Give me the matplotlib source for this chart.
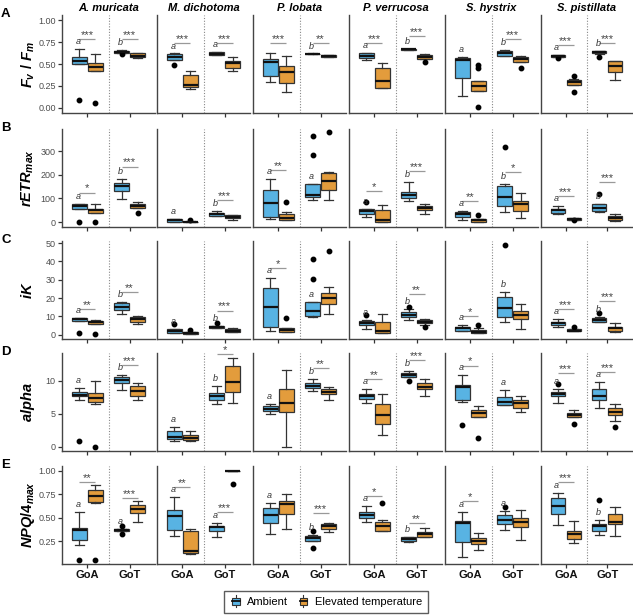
import matplotlib
matplotlib.use('Agg')
import matplotlib.pyplot as plt
from matplotlib.patches import Rectangle, Patch
from matplotlib.lines import Line2D
from matplotlib.legend_handler import HandlerBase

plt.rcParams['font.family'] = ['Liberation Sans', 'DejaVu Sans']
plt.rcParams['mathtext.fontset'] = 'custom'
plt.rcParams['mathtext.it'] = 'Liberation Sans:italic:bold'
plt.rcParams['mathtext.rm'] = 'Liberation Sans:bold'
plt.rcParams['mathtext.bf'] = 'Liberation Sans:bold'

species = ['A. muricata', 'M. dichotoma', 'P. lobata', 'P. verrucosa', 'S. hystrix', 'S. pistillata']
sites = ['GoA', 'GoT']
treatments = ['Ambient', 'Elevated temperature']
colors = ['#58B3E3', '#E39C3C']
row_tags = ['A', 'B', 'C', 'D', 'E']
ylabels = [r'$F_v\ /\ F_m$', r'$rETR_{max}$', r'$iK$', r'$alpha$', r'$NPQ/4_{max}$']

# box stats: (lower whisker, Q1, median, Q3, upper whisker, outliers)
# per species: [GoA (ambient, elevated), GoT (ambient, elevated)]
fvfm = [
    [((0.50, 0.50, 0.535, 0.577, 0.668, [0.094]), (0.426, 0.426, 0.465, 0.513, 0.619, [0.057])),
     ((0.625, 0.63, 0.64, 0.65, 0.66, [0.615]), (0.57, 0.575, 0.595, 0.62, 0.63, []))],
    [((0.547, 0.55, 0.585, 0.615, 0.62, [0.483]), (0.215, 0.238, 0.264, 0.377, 0.426, [])),
     ((0.60, 0.604, 0.619, 0.634, 0.64, []), (0.42, 0.46, 0.51, 0.536, 0.574, []))],
    [((0.30, 0.362, 0.52, 0.555, 0.623, []), (0.177, 0.283, 0.408, 0.472, 0.596, [])),
     ((0.61, 0.612, 0.615, 0.618, 0.62, []), (0.58, 0.585, 0.592, 0.598, 0.602, []))],
    [((0.55, 0.566, 0.596, 0.623, 0.63, []), (0.223, 0.223, 0.302, 0.449, 0.51, [])),
     ((0.66, 0.663, 0.668, 0.672, 0.675, []), (0.555, 0.562, 0.577, 0.604, 0.61, [0.52]))],
    [((0.132, 0.34, 0.54, 0.566, 0.577, []), (0.189, 0.189, 0.253, 0.31, 0.31, [0.483, 0.453, 0.008])),
     ((0.59, 0.596, 0.623, 0.649, 0.66, []), (0.52, 0.528, 0.555, 0.577, 0.59, [0.46]))],
    [((0.577, 0.58, 0.59, 0.60, 0.604, [0.566]), (0.26, 0.264, 0.29, 0.32, 0.33, [0.366, 0.185])),
     ((0.615, 0.62, 0.634, 0.645, 0.649, [0.585]), (0.32, 0.404, 0.472, 0.536, 0.536, []))],
]
retr = [
    [((54, 54, 67, 75, 78, [0]), (38, 38, 50, 57, 78, [0])),
     ((97, 132, 151, 164, 182, []), (58, 58, 67, 75, 85, [40]))],
    [((1, 1, 7, 11, 14, []), (0, 0.5, 1, 2, 3, [8])),
     ((26, 26, 33, 40, 47, []), (7, 16, 23, 28, 30, []))],
    [((11, 23, 82, 135, 182, []), (7, 8, 18, 33, 44, [85])),
     ((94, 104, 115, 161, 161, [364, 283]), (94, 135, 172, 206, 210, [381]))],
    [((23, 33, 47, 54, 57, [85]), (1, 1, 7, 51, 73, [])),
     ((87, 101, 114, 129, 168, []), (33, 51, 61, 68, 75, []))],
    [((7, 23, 33, 43, 47, []), (1, 1, 7, 14, 14, [30])),
     ((44, 68, 107, 151, 161, [317]), (16, 47, 75, 87, 122, []))],
    [((33, 37, 50, 57, 68, []), (7, 8, 11, 15, 16, [7])),
     ((44, 47, 61, 75, 75, [118]), (4, 8, 18, 26, 36, []))],
]
ik = [
    [((7.6, 7.6, 8.5, 9.0, 9.0, [0.9]), (5.8, 5.8, 6.7, 7.6, 8.1, [0.5])),
     ((11.2, 13.5, 15.3, 17.5, 18.0, []), (6.0, 7.2, 8.5, 9.6, 10.3, []))],
    [((0.9, 0.9, 1.8, 3.1, 3.1, [5.8]), (0.5, 0.5, 0.9, 1.3, 1.3, [2.7])),
     ((3.6, 3.6, 4.2, 4.9, 4.9, [6.3]), (1.3, 1.4, 2.3, 3.1, 3.6, []))],
    [((2.3, 4.2, 15.0, 25.6, 31.0, []), (1.4, 1.4, 2.7, 3.6, 3.6, [9.4])),
     ((9.9, 10.3, 13.0, 17.7, 17.7, [41.2, 30.5]), (11.4, 16.6, 19.9, 22.9, 26.2, [45.7]))],
    [((3.1, 5.1, 6.3, 7.6, 8.1, [10.6]), (0.9, 0.9, 2.3, 6.7, 11.4, [])),
     ((8.1, 9.6, 10.8, 12.3, 14.0, [15.3]), (5.4, 6.3, 7.0, 8.1, 8.5, [4.2]))],
    [((1.8, 2.3, 3.6, 4.2, 5.1, []), (0.9, 0.9, 1.6, 2.7, 3.8, [5.4])),
     ((7.0, 9.6, 14.4, 20.8, 23.1, [48.9]), (3.1, 8.5, 10.8, 13.2, 16.8, []))],
    [((4.2, 5.1, 6.3, 7.2, 8.7, []), (1.8, 1.8, 2.3, 3.1, 3.1, [4.0])),
     ((6.7, 6.7, 8.1, 9.0, 9.9, [12.1]), (1.4, 2.3, 3.6, 4.5, 6.3, []))],
]
alpha = [
    [((7.1, 7.6, 7.8, 8.3, 8.9, [0.9]), (6.4, 6.8, 7.4, 8.2, 10.0, [0.0])),
     ((8.6, 9.6, 10.1, 10.5, 10.9, []), (7.1, 7.6, 8.5, 9.2, 9.6, []))],
    [((0.8, 1.2, 1.5, 2.4, 2.9, []), (0.8, 1.0, 1.3, 1.8, 2.4, [])),
     ((6.5, 7.0, 7.6, 8.1, 9.2, []), (6.6, 8.3, 9.8, 12.3, 13.5, []))],
    [((4.9, 5.4, 5.7, 6.1, 6.4, []), (0.0, 5.2, 6.6, 8.8, 11.6, [])),
     ((8.4, 8.9, 9.2, 9.6, 10.2, []), (7.1, 7.9, 8.3, 8.8, 9.1, []))],
    [((6.6, 7.2, 7.6, 7.9, 8.7, []), (1.8, 3.4, 4.8, 6.5, 7.9, [])),
     ((10.6, 10.6, 10.9, 11.2, 11.5, [10.0]), (7.7, 8.7, 9.0, 9.7, 10.3, []))],
    [((6.7, 7.1, 9.0, 9.3, 10.8, [3.3]), (4.5, 4.5, 5.1, 5.6, 6.2, [1.3])),
     ((6.3, 6.3, 6.8, 7.5, 8.6, []), (5.2, 5.8, 6.6, 7.1, 7.6, []))],
    [((6.6, 7.6, 8.0, 8.3, 8.7, [9.5]), (4.5, 4.5, 4.8, 5.1, 5.6, [3.4])),
     ((5.9, 7.1, 7.6, 8.8, 9.8, []), (3.9, 4.8, 5.3, 5.8, 6.5, [2.9]))],
]
npq = [
    [((0.214, 0.268, 0.375, 0.393, 0.56, [0.05]), (0.657, 0.668, 0.732, 0.793, 0.846, [0.05])),
     ((0.357, 0.357, 0.368, 0.382, 0.382, [0.41, 0.33]), (0.46, 0.554, 0.596, 0.632, 0.679, []))],
    [((0.303, 0.371, 0.518, 0.579, 0.721, []), (0.121, 0.132, 0.15, 0.357, 0.382, [])),
     ((0.293, 0.364, 0.40, 0.418, 0.443, []), (1.0, 1.0, 1.0, 1.0, 1.0, [0.864]))],
    [((0.329, 0.446, 0.525, 0.607, 0.657, []), (0.382, 0.543, 0.643, 0.679, 0.75, [])),
     ((0.25, 0.25, 0.286, 0.304, 0.321, [0.357, 0.175]), (0.346, 0.382, 0.41, 0.436, 0.446, []))],
    [((0.46, 0.496, 0.532, 0.561, 0.621, []), (0.364, 0.364, 0.411, 0.454, 0.482, [0.657])),
     ((0.239, 0.257, 0.275, 0.293, 0.30, []), (0.293, 0.30, 0.329, 0.346, 0.393, []))],
    [((0.079, 0.246, 0.443, 0.464, 0.561, []), (0.157, 0.221, 0.257, 0.286, 0.339, [])),
     ((0.375, 0.436, 0.482, 0.525, 0.57, [0.61]), (0.268, 0.407, 0.454, 0.50, 0.586, []))],
    [((0.429, 0.543, 0.625, 0.714, 0.764, []), (0.232, 0.275, 0.329, 0.364, 0.471, [])),
     ((0.321, 0.364, 0.411, 0.436, 0.482, [0.693]), (0.311, 0.436, 0.454, 0.543, 0.614, []))],
]

# site letters above the ambient box, per species: (GoA, GoT)
fvfm_letters = [('a', 'b'), ('a', 'a'), ('', 'b'), ('a', 'b'), ('a', 'b'), ('a', 'b')]
retr_letters = [('a', 'b'), ('a', 'b'), ('a', 'a'), ('a', 'b'), ('a', 'b'), ('a', 'b')]
ik_letters = [('a', 'b'), ('a', 'b'), ('a', 'a'), ('a', 'b'), ('a', 'b'), ('a', 'b')]
alpha_letters = [('a', 'b'), ('a', 'b'), ('a', 'b'), ('a', 'b'), ('a', 'a'), ('a', 'a')]
npq_letters = [('a', 'a'), ('a', 'a'), ('a', 'b'), ('a', 'b'), ('a', 'a'), ('a', 'b')]

# treatment significance (stars, bracket height), per species: (GoA, GoT)
fvfm_sig = [(('***', 0.78), ('***', 0.78)), (('***', 0.736), ('***', 0.736)), (('***', 0.736), ('**', 0.743)),
            (('***', 0.743), ('***', 0.82)), (('', 0), ('***', 0.78)), (('***', 0.717), ('***', 0.743))]
retr_sig = [(('*', 125), ('***', 235)), (('', 0), ('***', 92)), (('**', 222), ('', 0)),
            (('*', 132), ('***', 215)), (('**', 87), ('*', 210)), (('***', 111), ('***', 168))]
ik_sig = [(('**', 14), ('**', 23.1)), (('', 0), ('***', 13.2)), (('*', 36.6), ('', 0)),
          (('', 0), ('**', 22.2)), (('*', 10.3), ('', 0)), (('***', 14.1), ('***', 18.4))]
alpha_sig = [(('', 0), ('***', 12.4)), (('', 0), ('*', 14.0)), (('', 0), ('**', 11.9)),
             (('**', 10.2), ('***', 13.2)), (('*', 12.3), ('', 0)), (('***', 11.2), ('***', 11.3))]
npq_sig = [(('**', 0.882), ('***', 0.714)), (('**', 0.829), ('***', 0.56)), (('', 0), ('***', 0.554)),
           (('*', 0.729), ('**', 0.446)), (('*', 0.675), ('', 0)), (('***', 0.875), ('', 0))]

ylims = [(-0.057, 1.057), (-21, 394), (-2.3, 51.1), (-0.68, 14.2), (0.01, 1.05)]
yticks = [[0, 0.25, 0.5, 0.75, 1.0], [0, 100, 200, 300], [0, 10, 20, 30, 40, 50], [0, 5, 10],
          [0.25, 0.5, 0.75, 1.0]]
ytick_labels = [['0.00', '0.25', '0.50', '0.75', '1.00'], ['0', '100', '200', '300'],
                ['0', '10', '20', '30', '40', '50'], ['0', '5', '10'], ['0.25', '0.50', '0.75', '1.00']]

rows = [(fvfm, fvfm_letters, fvfm_sig), (retr, retr_letters, retr_sig), (ik, ik_letters, ik_sig),
        (alpha, alpha_letters, alpha_sig), (npq, npq_letters, npq_sig)]


class BoxHandler(HandlerBase):
    # draws a small boxplot glyph as legend key
    def create_artists(self, legend, orig_handle, xdescent, ydescent, width, height, fontsize, trans):
        cx = width / 2 - xdescent
        y0 = -ydescent
        bw = width * 0.62
        whisk = Line2D([cx, cx], [y0 - height * 0.15, y0 + height * 1.15], color='#333333', lw=0.8, transform=trans)
        box = Rectangle((cx - bw / 2, y0 + height * 0.1), bw, height * 0.8, facecolor=orig_handle.get_facecolor(),
                        edgecolor='#333333', lw=0.8, transform=trans)
        med = Line2D([cx - bw / 2, cx + bw / 2], [y0 + height * 0.5] * 2, color='#111111', lw=1.3, transform=trans)
        return [whisk, box, med]


W, H = 633, 615
fig = plt.figure(figsize=(W / 100, H / 100), dpi=100)

lefts = [62, 157, 253, 349, 445, 541]
widths = [93, 93, 93, 93, 93, 91]
tops = [15, 129, 241, 353, 466]
ph = 98
edge = '#333333'

for r, (data, letters, sigs) in enumerate(rows):
    lo, hi = ylims[r]
    span = hi - lo
    for c in range(6):
        ax = fig.add_axes([lefts[c] / W, 1 - (tops[r] + ph) / H, widths[c] / W, ph / H])
        for s in range(2):
            stats = [dict(whislo=b[0], q1=b[1], med=b[2], q3=b[3], whishi=b[4], fliers=b[5]) for b in data[c][s]]
            pos = [s + 1 - 0.19, s + 1 + 0.19]
            bp = ax.bxp(stats, positions=pos, widths=0.34, capwidths=0.22, patch_artist=True, manage_ticks=False,
                        boxprops=dict(edgecolor=edge, linewidth=0.9),
                        medianprops=dict(color='#111111', linewidth=1.6),
                        whiskerprops=dict(color=edge, linewidth=0.9),
                        capprops=dict(color=edge, linewidth=0.9),
                        flierprops=dict(marker='o', markersize=3.2, markerfacecolor='black',
                                        markeredgecolor='black'))
            for patch, col in zip(bp['boxes'], colors):
                patch.set_facecolor(col)
            letter = letters[c][s]
            if letter:
                ax.text(pos[0] - 0.03, data[c][s][0][4] + 0.03 * span, letter, ha='center', va='bottom',
                        fontsize=6.5, style='italic', color='#333333')
            stars, yb = sigs[c][s]
            if stars:
                ax.plot(pos, [yb, yb], color='#999999', lw=0.9, solid_capstyle='butt')
                ax.text(s + 1, yb + 0.01 * span, stars, ha='center', va='baseline', fontsize=8, color='#444444')
        ax.axvline(1.5, color='#888888', ls=(0, (1, 1.5)), lw=0.8)
        ax.set_xlim(0.4, 2.6)
        ax.set_ylim(lo, hi)
        for sp in ['top', 'right']:
            ax.spines[sp].set_visible(False)
        for sp in ['left', 'bottom']:
            ax.spines[sp].set_color('#444444')
            ax.spines[sp].set_linewidth(1.0)
        ax.set_xticks([1, 2])
        ax.tick_params(axis='both', length=3, width=0.9, color='#333333', pad=1.5)
        if r == 4:
            ax.set_xticklabels(sites, fontsize=8, fontweight='bold', color='#111111')
        else:
            ax.set_xticklabels([])
        if c == 0:
            ax.set_yticks(yticks[r])
            ax.set_yticklabels(ytick_labels[r], fontsize=6.5, color='#4d4d4d')
        else:
            ax.set_yticks([])
        if r == 0:
            ax.set_title(species[c], fontsize=8, fontweight='bold', style='italic', pad=3)
    yc = 1 - (tops[r] + ph / 2) / H
    fig.text(28 / W, yc, ylabels[r], rotation=90, ha='center', va='center', fontsize=10.5)
    fig.text(1 / W, 1 - (tops[r] - 1) / H, row_tags[r], ha='left', va='center', fontsize=9.5, fontweight='bold')

handles = [Patch(facecolor=col) for col in colors]
fig.legend(handles, treatments, loc='center', bbox_to_anchor=(326 / W, 13 / H), ncol=2, fontsize=8,
           handler_map={Patch: BoxHandler()}, frameon=True, fancybox=False, edgecolor='#333333',
           handlelength=1.1, handleheight=0.9, handletextpad=0.5, columnspacing=0.8, borderpad=0.5)

fig.savefig('out.png', dpi=100)
